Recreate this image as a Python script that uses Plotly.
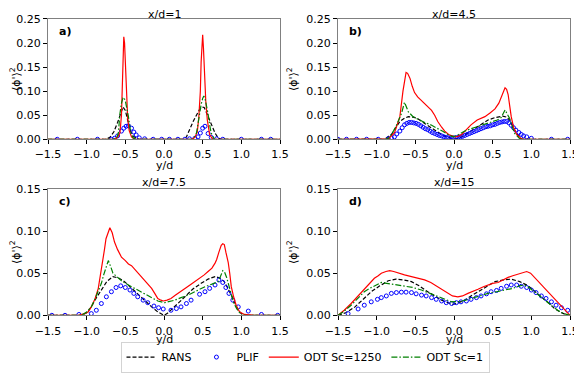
import plotly.graph_objects as go
from plotly.subplots import make_subplots

# ---- panel a) x/d=1 ----
a_rans_x = [-1.5, -0.75, -0.7, -0.65, -0.6, -0.56, -0.53, -0.5, -0.47, -0.44, -0.4, -0.36, -0.32, 0.25, 0.29, 0.33, 0.38, 0.43, 0.46, 0.49, 0.52, 0.55, 0.59, 0.63, 0.66, 0.7, 0.74, 1.5]
a_rans_y = [0, 0, 0.004, 0.015, 0.035, 0.055, 0.067, 0.06, 0.04, 0.02, 0.007, 0.002, 0, 0, 0.005, 0.02, 0.038, 0.053, 0.062, 0.067, 0.066, 0.055, 0.04, 0.022, 0.013, 0.003, 0, 0]
a_odt_x = [-1.5, -0.64, -0.6, -0.57, -0.55, -0.54, -0.53, -0.52, -0.51, -0.5, -0.49, -0.47, -0.45, -0.42, -0.38, 0.36, 0.4, 0.43, 0.45, 0.47, 0.48, 0.49, 0.5, 0.51, 0.52, 0.54, 0.56, 0.59, 0.63, 1.5]
a_odt_y = [0, 0, 0.004, 0.013, 0.05, 0.1, 0.16, 0.213, 0.2, 0.15, 0.1, 0.045, 0.018, 0.005, 0, 0, 0.004, 0.015, 0.045, 0.1, 0.16, 0.205, 0.217, 0.19, 0.14, 0.08, 0.04, 0.01, 0, 0]
a_sc1_x = [-1.5, -0.66, -0.61, -0.59, -0.57, -0.55, -0.53, -0.52, -0.5, -0.48, -0.46, -0.43, -0.4, -0.36, 0.38, 0.42, 0.44, 0.46, 0.48, 0.5, 0.515, 0.53, 0.55, 0.57, 0.59, 0.61, 0.65, 1.5]
a_sc1_y = [0, 0, 0.004, 0.013, 0.053, 0.075, 0.086, 0.087, 0.08, 0.065, 0.047, 0.013, 0.003, 0, 0, 0.013, 0.035, 0.053, 0.072, 0.085, 0.09, 0.085, 0.07, 0.053, 0.03, 0.013, 0, 0]
a_plif_x = [-1.38, -1.12, -0.86, -0.68, -0.64, -0.6, -0.55, -0.52, -0.49, -0.46, -0.42, -0.39, -0.36, -0.32, -0.25, -0.14, -0.03, 0.07, 0.18, 0.27, 0.33, 0.4, 0.44, 0.47, 0.5, 0.53, 0.57, 0.61, 0.68, 0.76, 1.0, 1.26, 1.38]
a_plif_y = [0, 0, 0, 0, 0.002, 0.007, 0.017, 0.023, 0.027, 0.028, 0.023, 0.015, 0.009, 0.003, 0.001, 0, 0, 0, 0, 0, 0.001, 0.002, 0.005, 0.013, 0.023, 0.027, 0.012, 0.004, 0.001, 0, 0, 0, 0]

# ---- panel b) x/d=4.5 ----
b_rans_x = [-1.5, -0.9, -0.81, -0.75, -0.7, -0.64, -0.59, -0.53, -0.47, -0.38, -0.29, -0.2, -0.12, -0.05, -0.01, 0.05, 0.1, 0.18, 0.27, 0.36, 0.44, 0.53, 0.63, 0.68, 0.72, 0.78, 0.85, 0.89, 1.5]
b_rans_y = [0, 0, 0.01, 0.025, 0.037, 0.044, 0.047, 0.046, 0.043, 0.033, 0.023, 0.014, 0.007, 0.002, 0, 0.002, 0.005, 0.013, 0.023, 0.032, 0.04, 0.045, 0.048, 0.046, 0.04, 0.02, 0.003, 0, 0]
b_odt_x = [-1.5, -0.88, -0.85, -0.77, -0.73, -0.7, -0.66, -0.62, -0.6, -0.57, -0.54, -0.51, -0.47, -0.42, -0.36, -0.29, -0.25, -0.21, -0.16, -0.12, -0.07, -0.03, 0.01, 0.05, 0.1, 0.16, 0.22, 0.3, 0.4, 0.47, 0.53, 0.58, 0.61, 0.64, 0.66, 0.68, 0.7, 0.72, 0.74, 0.77, 0.81, 0.87, 0.9, 1.5]
b_odt_y = [0, 0, 0.001, 0.013, 0.03, 0.047, 0.1, 0.139, 0.137, 0.127, 0.11, 0.097, 0.088, 0.08, 0.072, 0.06, 0.05, 0.037, 0.025, 0.017, 0.01, 0.007, 0.005, 0.006, 0.01, 0.02, 0.03, 0.04, 0.047, 0.055, 0.063, 0.075, 0.087, 0.1, 0.107, 0.104, 0.093, 0.07, 0.047, 0.025, 0.01, 0.001, 0, 0]
b_sc1_x = [-1.5, -0.88, -0.85, -0.8, -0.75, -0.68, -0.64, -0.59, -0.53, -0.45, -0.38, -0.3, -0.21, -0.14, -0.08, -0.01, 0.06, 0.14, 0.22, 0.31, 0.4, 0.48, 0.56, 0.61, 0.66, 0.72, 0.75, 0.78, 0.85, 0.88, 1.5]
b_sc1_y = [0, 0, 0.002, 0.012, 0.027, 0.053, 0.077, 0.057, 0.047, 0.04, 0.035, 0.03, 0.023, 0.016, 0.01, 0.005, 0.01, 0.017, 0.022, 0.027, 0.031, 0.035, 0.04, 0.045, 0.061, 0.043, 0.028, 0.013, 0.001, 0, 0]
b_plif_x = [-1.5, -1.39, -1.26, -1.13, -0.98, -0.85, -0.81, -0.77, -0.74, -0.7, -0.67, -0.64, -0.61, -0.58, -0.55, -0.52, -0.49, -0.46, -0.43, -0.4, -0.37, -0.34, -0.31, -0.28, -0.25, -0.22, -0.19, -0.16, -0.13, -0.1, -0.07, -0.04, -0.01, 0.02, 0.05, 0.08, 0.11, 0.14, 0.17, 0.2, 0.23, 0.26, 0.29, 0.32, 0.35, 0.38, 0.41, 0.44, 0.47, 0.5, 0.53, 0.56, 0.59, 0.62, 0.65, 0.68, 0.71, 0.74, 0.77, 0.8, 0.84, 0.87, 0.9, 0.94, 1.0, 1.26, 1.47]
b_plif_y = [0, 0, 0, 0, 0, 0.001, 0.003, 0.005, 0.011, 0.017, 0.024, 0.03, 0.033, 0.035, 0.035, 0.034, 0.033, 0.031, 0.028, 0.025, 0.022, 0.02, 0.017, 0.014, 0.012, 0.01, 0.008, 0.007, 0.005, 0.004, 0.003, 0.003, 0.003, 0.003, 0.004, 0.005, 0.006, 0.008, 0.01, 0.012, 0.014, 0.016, 0.018, 0.02, 0.022, 0.024, 0.026, 0.027, 0.028, 0.03, 0.031, 0.033, 0.035, 0.036, 0.037, 0.037, 0.034, 0.029, 0.024, 0.019, 0.014, 0.01, 0.007, 0.005, 0.002, 0, 0]

# ---- panel c) x/d=7.5 ----
c_rans_x = [-1.5, -1.07, -1.0, -0.94, -0.88, -0.81, -0.74, -0.66, -0.58, -0.51, -0.43, -0.34, -0.25, -0.16, -0.08, -0.03, 0.0, 0.04, 0.09, 0.18, 0.27, 0.37, 0.48, 0.57, 0.66, 0.73, 0.78, 0.83, 0.87, 0.92, 0.96, 1.02, 1.5]
c_rans_y = [0, 0, 0.003, 0.01, 0.02, 0.03, 0.04, 0.046, 0.044, 0.04, 0.033, 0.026, 0.018, 0.01, 0.004, 0.001, 0, 0.002, 0.006, 0.014, 0.022, 0.031, 0.038, 0.043, 0.046, 0.044, 0.04, 0.032, 0.024, 0.014, 0.006, 0, 0]
c_odt_x = [-1.5, -1.1, -1.03, -0.98, -0.94, -0.89, -0.85, -0.82, -0.79, -0.77, -0.75, -0.72, -0.7, -0.67, -0.64, -0.6, -0.55, -0.5, -0.46, -0.42, -0.38, -0.33, -0.29, -0.24, -0.2, -0.16, -0.12, -0.08, -0.04, -0.01, 0.04, 0.09, 0.15, 0.22, 0.29, 0.35, 0.4, 0.46, 0.52, 0.57, 0.62, 0.66, 0.68, 0.71, 0.74, 0.76, 0.78, 0.8, 0.83, 0.85, 0.87, 0.9, 0.94, 0.98, 1.04, 1.17, 1.5]
c_odt_y = [0, 0, 0.002, 0.004, 0.01, 0.02, 0.032, 0.048, 0.063, 0.078, 0.091, 0.1, 0.104, 0.098, 0.087, 0.078, 0.069, 0.065, 0.061, 0.059, 0.055, 0.05, 0.046, 0.041, 0.036, 0.032, 0.026, 0.02, 0.018, 0.017, 0.018, 0.02, 0.024, 0.028, 0.033, 0.037, 0.04, 0.044, 0.048, 0.052, 0.056, 0.062, 0.066, 0.075, 0.083, 0.085, 0.084, 0.075, 0.063, 0.05, 0.034, 0.022, 0.01, 0.004, 0.001, 0, 0]
c_sc1_x = [-1.5, -1.07, -1.0, -0.94, -0.88, -0.81, -0.78, -0.75, -0.72, -0.69, -0.66, -0.6, -0.55, -0.46, -0.38, -0.3, -0.21, -0.14, -0.08, 0.01, 0.07, 0.14, 0.22, 0.31, 0.42, 0.53, 0.62, 0.7, 0.73, 0.76, 0.78, 0.81, 0.84, 0.87, 0.9, 0.94, 1.0, 1.5]
c_sc1_y = [0, 0, 0.004, 0.01, 0.022, 0.038, 0.048, 0.057, 0.065, 0.058, 0.05, 0.045, 0.041, 0.036, 0.032, 0.028, 0.024, 0.02, 0.017, 0.015, 0.016, 0.018, 0.021, 0.024, 0.029, 0.034, 0.037, 0.04, 0.046, 0.053, 0.052, 0.045, 0.035, 0.024, 0.015, 0.008, 0, 0]
c_plif_x = [-1.45, -1.28, -1.1, -0.94, -0.875, -0.81, -0.745, -0.68, -0.62, -0.56, -0.5, -0.44, -0.39, -0.34, -0.27, -0.21, -0.13, -0.07, -0.01, 0.09, 0.16, 0.22, 0.29, 0.35, 0.46, 0.53, 0.59, 0.66, 0.71, 0.76, 0.8, 0.84, 0.89, 0.96, 1.09, 1.26, 1.47]
c_plif_y = [0, 0, 0.001, 0.002, 0.006, 0.014, 0.022, 0.028, 0.033, 0.035, 0.033, 0.03, 0.026, 0.022, 0.018, 0.015, 0.011, 0.009, 0.0075, 0.006, 0.008, 0.01, 0.014, 0.018, 0.025, 0.028, 0.032, 0.036, 0.042, 0.039, 0.033, 0.026, 0.018, 0.01, 0.005, 0.001, 0]

# ---- panel d) x/d=15 ----
d_rans_x = [-1.5, -1.4, -1.28, -1.17, -1.07, -0.96, -0.85, -0.75, -0.65, -0.55, -0.45, -0.34, -0.25, -0.16, -0.08, -0.01, 0.06, 0.14, 0.22, 0.31, 0.42, 0.53, 0.64, 0.74, 0.85, 0.96, 1.05, 1.13, 1.22, 1.3, 1.39, 1.47, 1.5]
d_rans_y = [0, 0.003, 0.01, 0.019, 0.028, 0.035, 0.041, 0.043, 0.042, 0.04, 0.035, 0.028, 0.023, 0.018, 0.015, 0.013, 0.015, 0.018, 0.023, 0.028, 0.034, 0.04, 0.042, 0.043, 0.04, 0.035, 0.028, 0.022, 0.015, 0.008, 0.003, 0, 0]
d_odt_x = [-1.5, -1.42, -1.33, -1.25, -1.16, -1.09, -1.03, -0.98, -0.94, -0.88, -0.83, -0.78, -0.72, -0.64, -0.55, -0.46, -0.38, -0.3, -0.21, -0.14, -0.08, -0.02, 0.05, 0.11, 0.18, 0.24, 0.31, 0.38, 0.44, 0.5, 0.57, 0.63, 0.7, 0.76, 0.83, 0.89, 0.94, 0.99, 1.04, 1.1, 1.17, 1.24, 1.3, 1.37, 1.43, 1.5]
d_odt_y = [0, 0.006, 0.014, 0.022, 0.03, 0.038, 0.044, 0.047, 0.05, 0.052, 0.053, 0.052, 0.05, 0.048, 0.046, 0.044, 0.042, 0.039, 0.034, 0.03, 0.026, 0.023, 0.022, 0.023, 0.026, 0.028, 0.031, 0.034, 0.036, 0.038, 0.039, 0.042, 0.045, 0.047, 0.049, 0.051, 0.052, 0.05, 0.045, 0.039, 0.033, 0.026, 0.02, 0.013, 0.006, 0]
d_sc1_x = [-1.5, -1.42, -1.33, -1.25, -1.16, -1.09, -1.03, -0.94, -0.87, -0.81, -0.72, -0.64, -0.53, -0.42, -0.31, -0.21, -0.12, -0.03, 0.09, 0.18, 0.27, 0.35, 0.44, 0.55, 0.66, 0.76, 0.85, 0.91, 0.97, 1.04, 1.1, 1.17, 1.25, 1.34, 1.42, 1.5]
d_sc1_y = [0, 0.005, 0.012, 0.02, 0.028, 0.032, 0.035, 0.039, 0.038, 0.037, 0.036, 0.035, 0.033, 0.03, 0.026, 0.022, 0.019, 0.016, 0.0165, 0.019, 0.022, 0.024, 0.026, 0.028, 0.03, 0.032, 0.035, 0.036, 0.033, 0.028, 0.023, 0.018, 0.012, 0.006, 0.002, 0]
d_plif_x = [-1.37, -1.24, -1.16, -1.07, -0.99, -0.94, -0.875, -0.81, -0.745, -0.68, -0.62, -0.55, -0.49, -0.42, -0.36, -0.29, -0.23, -0.16, -0.1, -0.03, 0.03, 0.09, 0.16, 0.22, 0.29, 0.35, 0.42, 0.48, 0.55, 0.61, 0.68, 0.74, 0.81, 0.87, 0.94, 1.0, 1.06, 1.13, 1.19, 1.26, 1.32, 1.39, 1.47]
d_plif_y = [0.002, 0.0075, 0.012, 0.016, 0.019, 0.021, 0.023, 0.026, 0.027, 0.0275, 0.0275, 0.027, 0.0255, 0.024, 0.023, 0.021, 0.019, 0.017, 0.015, 0.014, 0.015, 0.016, 0.017, 0.019, 0.021, 0.023, 0.0255, 0.028, 0.0295, 0.032, 0.0345, 0.036, 0.036, 0.0345, 0.033, 0.03, 0.027, 0.023, 0.02, 0.016, 0.012, 0.009, 0.006]

panels = [
    ('x/d=1', 'a)', 1, 1, 0.25, a_rans_x, a_rans_y, a_plif_x, a_plif_y, a_odt_x, a_odt_y, a_sc1_x, a_sc1_y),
    ('x/d=4.5', 'b)', 1, 2, 0.25, b_rans_x, b_rans_y, b_plif_x, b_plif_y, b_odt_x, b_odt_y, b_sc1_x, b_sc1_y),
    ('x/d=7.5', 'c)', 2, 1, 0.15, c_rans_x, c_rans_y, c_plif_x, c_plif_y, c_odt_x, c_odt_y, c_sc1_x, c_sc1_y),
    ('x/d=15', 'd)', 2, 2, 0.15, d_rans_x, d_rans_y, d_plif_x, d_plif_y, d_odt_x, d_odt_y, d_sc1_x, d_sc1_y),
]

# page body has an 8px margin, so the figure is drawn 8px in from the top-left corner
W, H, OFF = 574, 365, 8


def px_x(x):
    return (x - OFF) / W


def px_y(y):
    return 1 - (y - OFF) / H


fig = make_subplots(rows=2, cols=2)

font = dict(family='DejaVu Sans', size=11, color='black')
xdom = {1: [px_x(48), px_x(280)], 2: [px_x(338), px_x(570)]}
ydom = {1: [px_y(140), px_y(19)], 2: [px_y(317), px_y(190)]}
xlab_y = {1: px_y(166), 2: px_y(341)}

for i, (title, lab, r, c, ymax, rx, ry, px, py, ox, oy, sx, sy) in enumerate(panels):
    first = i == 0
    fig.add_trace(go.Scatter(x=rx, y=ry, mode='lines', name='RANS', showlegend=first,
                             line=dict(color='black', width=1.2, dash='4px,2px')), row=r, col=c)
    fig.add_trace(go.Scatter(x=px, y=py, mode='markers', name='PLIF', showlegend=first,
                             marker=dict(symbol='circle-open', color='blue', size=4, line=dict(width=1))), row=r, col=c)
    fig.add_trace(go.Scatter(x=ox, y=oy, mode='lines', name='ODT Sc=1250', showlegend=first,
                             line=dict(color='red', width=1.2)), row=r, col=c)
    fig.add_trace(go.Scatter(x=sx, y=sy, mode='lines', name='ODT Sc=1', showlegend=first,
                             line=dict(color='green', width=1.2, dash='6px,2px,1.5px,2px')), row=r, col=c)

    fig.update_xaxes(domain=xdom[c], range=[-1.5, 1.5], dtick=0.5, tick0=-1.5, tickformat='.1f',
                     row=r, col=c)
    fig.update_yaxes(domain=ydom[r], range=[0, ymax], dtick=0.05, tickformat='.2f',
                     title=dict(text="⟨ϕ'⟩<sup>2</sup>", font=font, standoff=6), row=r, col=c)

    n = '' if i == 0 else str(i + 1)
    fig.add_annotation(text=title, xref='x%s domain' % n, yref='y%s domain' % n, x=0.5, y=1.0,
                       yanchor='bottom', showarrow=False, font=font, yshift=-4 if r == 1 else -2)
    fig.add_annotation(text='<b>%s</b>' % lab, xref='x%s domain' % n, yref='y%s domain' % n,
                       x=0.04, y=0.97, xanchor='left', yanchor='top', showarrow=False, font=font)
    fig.add_annotation(text='y/d', xref='x%s domain' % n, yref='paper', x=0.5, y=xlab_y[r],
                       yanchor='middle', showarrow=False, font=font)

fig.update_xaxes(showline=True, mirror=True, linecolor='grey', linewidth=1, showgrid=False, zeroline=False,
                 ticks='outside', ticklen=4, tickcolor='black', tickfont=font, automargin=False,
                 ticklabelstandoff=1)
fig.update_yaxes(showline=True, mirror=True, linecolor='grey', linewidth=1, showgrid=False, zeroline=False,
                 ticks='outside', ticklen=4, tickcolor='black', tickfont=font, automargin=False)

fig.update_layout(
    width=W, height=H,
    margin=dict(l=0, r=0, t=0, b=0),
    plot_bgcolor='white', paper_bgcolor='white',
    font=font,
    legend=dict(orientation='h', x=px_x(305), y=px_y(359), xanchor='center', yanchor='middle',
                bordercolor='lightgrey', borderwidth=1, font=font, itemwidth=30, tracegroupgap=0),
)

fig.write_html("out.html")
